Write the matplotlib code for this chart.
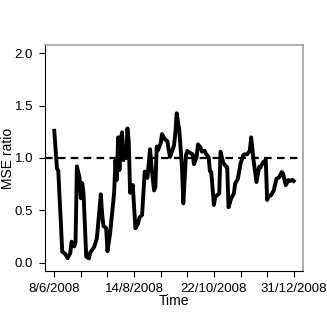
import matplotlib
matplotlib.use("Agg")
import matplotlib.pyplot as plt

plt.rcParams['font.family'] = ['Liberation Sans', 'DejaVu Sans']

obs = [0, 2, 3, 6, 8, 10, 12, 13, 15, 16, 17, 19, 20, 21, 22, 24, 26, 27, 30, 32,
       35, 36, 37, 39, 40, 42, 45, 46, 47, 48, 49, 50, 51, 52, 53, 54, 55, 56, 57, 59,
       61, 63, 64, 66, 68, 70, 72, 73, 75, 76, 77, 78, 79, 80, 81, 83, 85, 86, 87, 90,
       91, 92, 94, 96, 97, 99, 100, 102, 104, 105, 107, 108, 110, 111, 113, 114, 116, 117, 118, 120,
       121, 124, 125, 127, 129, 130, 131, 133, 135, 136, 138, 140, 142, 143, 145, 147, 148, 150, 152, 154,
       155, 157, 159, 160, 161, 163, 165, 167, 169, 171, 172, 174, 176, 177, 179, 180]
mse_ratio = [1.26, 0.90, 0.88, 0.105, 0.085, 0.042, 0.09, 0.20, 0.155, 0.20,
             0.92, 0.81, 0.615, 0.76, 0.66, 0.057, 0.04, 0.095, 0.15, 0.23,
             0.653, 0.46, 0.35, 0.33, 0.11, 0.285, 0.667, 0.98, 0.79, 1.197,
             0.885, 1.19, 1.245, 0.98, 1.075, 1.0, 1.283, 1.155, 0.667, 0.742,
             0.328, 0.375, 0.43, 0.455, 0.87, 0.81, 1.083, 0.93, 0.69, 0.72,
             1.11, 1.075, 1.11, 1.14, 1.229, 1.18, 1.16, 1.08, 1.01, 1.12,
             1.232, 1.427, 1.264, 0.915, 0.567, 1.025, 1.068, 1.05, 1.035, 0.94,
             1.01, 1.13, 1.10, 1.06, 1.07, 1.04, 1.01, 0.875, 0.865, 0.551,
             0.63, 0.66, 1.06, 0.955, 0.92, 0.915, 0.529, 0.615, 0.66, 0.756,
             0.80, 0.945, 1.025, 1.035, 1.035, 1.07, 1.197, 0.96, 0.77, 0.915,
             0.91, 0.96, 0.98, 0.599, 0.63, 0.645, 0.69, 0.80, 0.815, 0.866,
             0.85, 0.74, 0.79, 0.78, 0.79, 0.78]

tick_pos = [0, 20, 40, 60, 80, 100, 120, 140, 160, 180]
tick_labels = ["8/6/2008", "", "", "14/8/2008", "", "", "22/10/2008", "", "", "31/12/2008"]
y_ticks = [0.0, 0.5, 1.0, 1.5, 2.0]

fig = plt.figure(figsize=(3.27, 3.27), dpi=100)
ax = fig.add_axes([0.1367, 0.1713, 0.7908, 0.6911])

ax.plot(obs, mse_ratio, color='black', lw=2.8, solid_joinstyle='round')
ax.axhline(1.0, color='black', lw=1.6, linestyle=(0, (3.4, 2.4)))

ax.set_xlim(-7.2, 187.2)
ax.set_ylim(-0.08, 2.08)
ax.set_xticks(tick_pos)
ax.set_xticklabels(tick_labels)
ax.set_yticks(y_ticks)
ax.set_yticklabels(["%.1f" % v for v in y_ticks])
ax.tick_params(labelsize=9.5, length=4.3, width=0.8, pad=4, color='black')

for s in ['left', 'bottom']:
    ax.spines[s].set_color('black')
    ax.spines[s].set_linewidth(0.8)
for s in ['top', 'right']:
    ax.spines[s].set_color('#999999')
    ax.spines[s].set_linewidth(1.1)

ax.set_xlabel("Time", fontsize=10, va='center')
ax.set_ylabel("MSE ratio", fontsize=10, va='center')
ax.xaxis.set_label_coords(0.5, -0.135)
ax.yaxis.set_label_coords(-0.143, 0.5)

fig.savefig("out.png", dpi=100)
